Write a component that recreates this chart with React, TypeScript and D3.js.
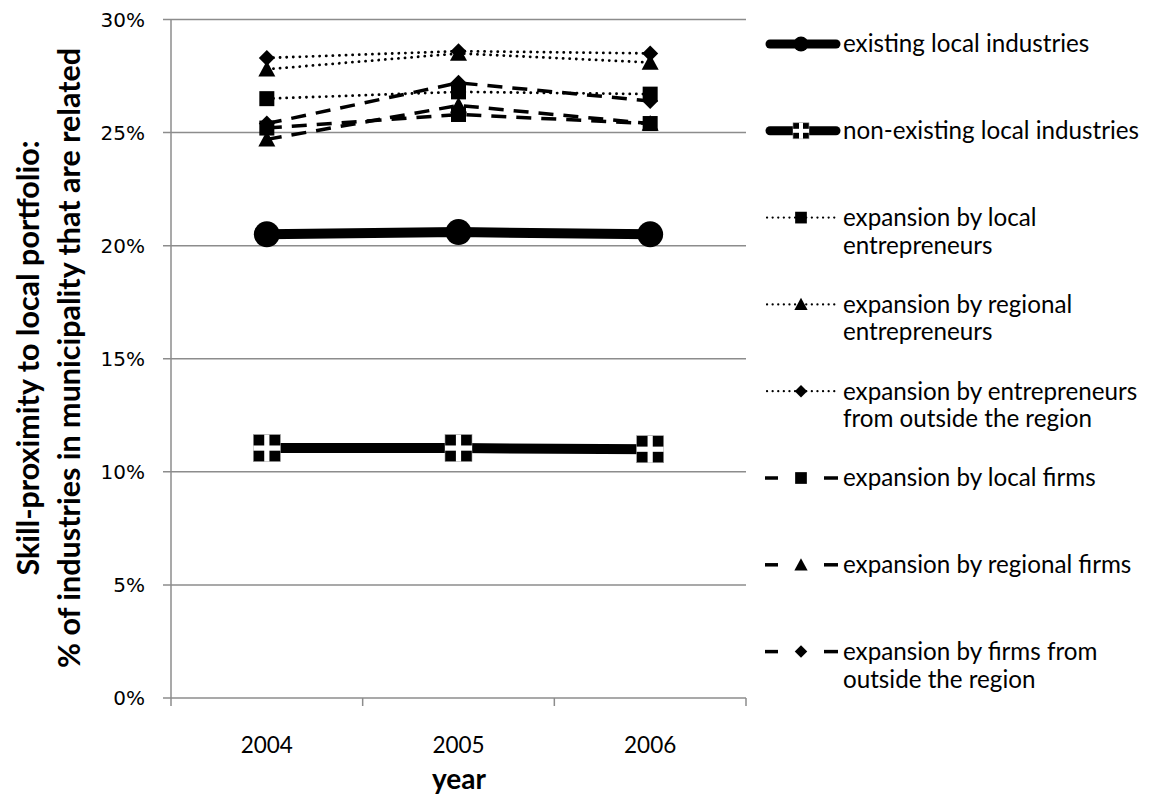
import React from "react";
import * as d3 from "d3";

const years = ["2004", "2005", "2006"];
const yTicks = [0, 0.05, 0.1, 0.15, 0.2, 0.25, 0.3];

const existingLocal = [0.205, 0.206, 0.205];
const nonExistingLocal = [0.1105, 0.1105, 0.110];
const localEntrepreneurs = [0.265, 0.268, 0.267];
const regionalEntrepreneurs = [0.278, 0.285, 0.281];
const outsideEntrepreneurs = [0.283, 0.286, 0.285];
const localFirms = [0.252, 0.258, 0.254];
const regionalFirms = [0.247, 0.262, 0.254];
const outsideFirms = [0.254, 0.272, 0.264];

type Kind = "thick" | "dotted" | "dashed";
type Marker = "circle" | "crossSquare" | "square" | "triangle" | "diamond";

const series: { name: string[]; values: number[]; kind: Kind; marker: Marker }[] = [
  { name: ["existing local industries"], values: existingLocal, kind: "thick", marker: "circle" },
  { name: ["non-existing local industries"], values: nonExistingLocal, kind: "thick", marker: "crossSquare" },
  { name: ["expansion by local", "entrepreneurs"], values: localEntrepreneurs, kind: "dotted", marker: "square" },
  { name: ["expansion by regional", "entrepreneurs"], values: regionalEntrepreneurs, kind: "dotted", marker: "triangle" },
  { name: ["expansion by entrepreneurs", "from outside the region"], values: outsideEntrepreneurs, kind: "dotted", marker: "diamond" },
  { name: ["expansion by local firms"], values: localFirms, kind: "dashed", marker: "square" },
  { name: ["expansion by regional firms"], values: regionalFirms, kind: "dashed", marker: "triangle" },
  { name: ["expansion by firms from", "outside the region"], values: outsideFirms, kind: "dashed", marker: "diamond" },
];

const W = 1155, H = 799;
const left = 171, right = 746, top = 19.5, bottom = 698;
const font = "Lato, 'Open Sans', sans-serif";

function lineStyle(kind: Kind) {
  if (kind === "thick") return { strokeWidth: 10, dash: undefined as string | undefined, cap: "round" as const };
  if (kind === "dotted") return { strokeWidth: 2.8, dash: "0.1 6.5", cap: "round" as const };
  return { strokeWidth: 3.5, dash: "15 10", cap: "butt" as const };
}

function MarkerShape({ m, x, y, legend }: { m: Marker; x: number; y: number; legend?: boolean }) {
  const s = legend ? 0.78 : 1;
  if (m === "circle") return <circle cx={x} cy={y} r={legend ? 7.5 : 13} fill="#000" />;
  if (m === "crossSquare") {
    const h = legend ? 8 : 13.5;
    const t = legend ? 2 : 2.6;
    return (
      <g>
        <rect x={x - h} y={y - h} width={2 * h} height={2 * h} fill="#000" stroke="#999" strokeWidth={0.6} />
        <rect x={x - t} y={y - h} width={2 * t} height={2 * h} fill="#fff" />
        <rect x={x - h} y={y - t} width={2 * h} height={2 * t} fill="#fff" />
      </g>
    );
  }
  if (m === "square") {
    const h = 7.5 * s;
    return <rect x={x - h} y={y - h} width={2 * h} height={2 * h} fill="#000" />;
  }
  if (m === "triangle") {
    const h = 8.5 * s;
    const p = d3.path();
    p.moveTo(x, y - h);
    p.lineTo(x + h, y + h * 0.85);
    p.lineTo(x - h, y + h * 0.85);
    p.closePath();
    return <path d={p.toString()} fill="#000" />;
  }
  const h = 8 * s;
  const p = d3.path();
  p.moveTo(x, y - h);
  p.lineTo(x + h, y);
  p.lineTo(x, y + h);
  p.lineTo(x - h, y);
  p.closePath();
  return <path d={p.toString()} fill="#000" />;
}

export default function App() {
  const xBand = d3.scaleBand<string>().domain(years).range([left, right]);
  const xPos = (yr: string) => (xBand(yr) as number) + xBand.bandwidth() / 2;
  const y = d3.scaleLinear().domain([0, 0.3]).range([bottom, top]);
  const fmt = d3.format(".0%");
  const gen = d3.line<number>().x((_, i) => xPos(years[i])).y((v) => y(v));

  const drawOrder = [...series].reverse();
  const legendX = 843;
  const legendY0 = 44;
  const legendStep = 86.8;

  return (
    <svg width={W} height={H} style={{ position: "absolute", left: 0, top: 0, background: "#fff" }}>
      <rect width={W} height={H} fill="#fff" />
      {yTicks.map((t) => (
        <g key={t}>
          <line x1={left - 8} x2={right} y1={y(t)} y2={y(t)} stroke="#8c8c8c" strokeWidth={1.5} />
          <text x={145} y={y(t)} dy="0.35em" textAnchor="end" fontFamily="'DejaVu Sans', Verdana, sans-serif" fontSize={20} fill="#000">
            {fmt(t)}
          </text>
        </g>
      ))}
      <line x1={left} x2={left} y1={top} y2={bottom} stroke="#8c8c8c" strokeWidth={1.5} />
      {[...years.map((yr) => xBand(yr) as number), right].map((xv, i) => (
        <line key={i} x1={xv} x2={xv} y1={bottom} y2={bottom + 8} stroke="#8c8c8c" strokeWidth={1.5} />
      ))}
      {years.map((yr) => (
        <text key={yr} x={xPos(yr)} y={745} dy="0.35em" textAnchor="middle" fontFamily={font} fontSize={22.5} fill="#000">
          {yr}
        </text>
      ))}
      <text x={459} y={779} dy="0.35em" textAnchor="middle" fontFamily={font} fontWeight="bold" fontSize={28} fill="#000">
        year
      </text>
      <g transform={`translate(0, 358) rotate(-90)`}>
        <text x={0} y={39} textAnchor="middle" fontFamily={font} fontWeight="bold" fontSize={30.5} fill="#000">
          Skill-proximity to local portfolio:
        </text>
        <text x={0} y={80} textAnchor="middle" fontFamily={font} fontWeight="bold" fontSize={30.5} fill="#000">
          % of industries in municipality that are related
        </text>
      </g>

      {drawOrder.map((s, k) => {
        const st = lineStyle(s.kind);
        return (
          <g key={k}>
            <path d={gen(s.values) || ""} fill="none" stroke="#000" strokeWidth={st.strokeWidth} strokeDasharray={st.dash} strokeLinecap={st.cap} />
            {s.values.map((v, i) => (
              <MarkerShape key={i} m={s.marker} x={xPos(years[i])} y={y(v)} />
            ))}
          </g>
        );
      })}

      {series.map((s, k) => {
        const cy = legendY0 + k * legendStep;
        return (
          <g key={k}>
            {s.kind === "dashed" ? (
              <g>
                <line x1={765} x2={778} y1={cy} y2={cy} stroke="#000" strokeWidth={3.5} />
                <line x1={824} x2={838} y1={cy} y2={cy} stroke="#000" strokeWidth={3.5} />
              </g>
            ) : s.kind === "thick" ? (
              <line x1={770} x2={836} y1={cy} y2={cy} stroke="#000" strokeWidth={9} strokeLinecap="round" />
            ) : (
              <line x1={767} x2={837} y1={cy} y2={cy} stroke="#000" strokeWidth={2.2} strokeDasharray="0.1 5.5" strokeLinecap="round" />
            )}
            <MarkerShape m={s.marker} x={801} y={cy} legend />
            {s.name.map((ln, j) => (
              <text key={j} x={legendX} y={cy + j * 27.5} dy="0.35em" fontFamily={font} fontSize={24.2} fill="#000">
                {ln}
              </text>
            ))}
          </g>
        );
      })}
    </svg>
  );
}
